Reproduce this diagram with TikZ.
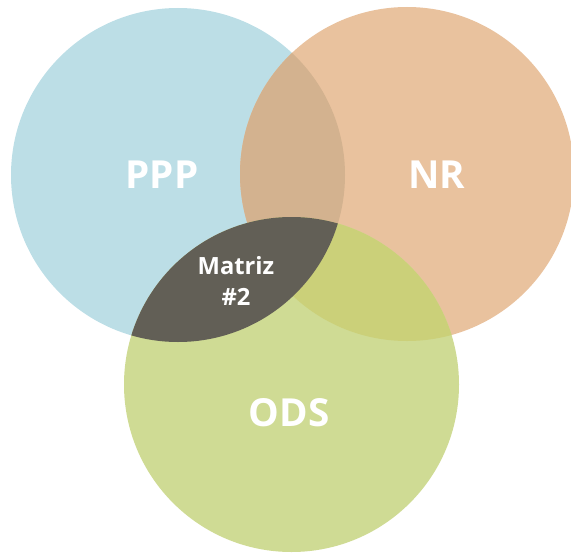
\documentclass[tikz,border=0pt]{standalone}
\usepackage{fontspec}
\setsansfont{Open Sans}

\definecolor{pppblue}{HTML}{BCDEE6}
\definecolor{nrpeach}{HTML}{E9C29E}
\definecolor{odsgreen}{HTML}{CFDB94}
\definecolor{pppnr}{HTML}{D3B28F}
\definecolor{nrods}{HTML}{CBD079}
\definecolor{pppods}{HTML}{625F56}

\begin{document}
\begin{tikzpicture}[x=0.02cm,y=-0.02cm]
\tikzstyle{every node}+=[inner sep=0pt]
\tikzstyle{setlabel}=[text=white, font=\sffamily\bfseries\fontsize{22}{26}\selectfont]
\tikzstyle{matlabel}=[text=white, align=center, font=\sffamily\bfseries\fontsize{13.5}{18}\selectfont]
\useasboundingbox (0,0) rectangle (571,554);
\coordinate (ppp) at (178,175);
\coordinate (nr) at (407,174);
\coordinate (ods) at (291.5,384.5);
% circles
\fill [pppblue] (ppp) circle [radius=167];
\fill [nrpeach] (nr) circle [radius=167];
\fill [odsgreen] (ods) circle [radius=167.5];
% overlaps
\begin{scope}
\clip (ppp) circle [radius=167];
\fill [pppnr] (nr) circle [radius=167];
\end{scope}
\begin{scope}
\clip (nr) circle [radius=167];
\fill [nrods] (ods) circle [radius=167.5];
\end{scope}
\begin{scope}
\clip (ppp) circle [radius=167];
\fill [pppods] (ods) circle [radius=167.5];
\end{scope}
% labels
\node [setlabel] (ppplabel) at (162,175) {PPP};
\node [setlabel] (nrlabel) at (437,175) {NR};
\node [setlabel] (odslabel) at (289,413) {ODS};
\node [matlabel] (matriz) at (236,281) {Matriz\\\#2};
\end{tikzpicture}
\end{document}
